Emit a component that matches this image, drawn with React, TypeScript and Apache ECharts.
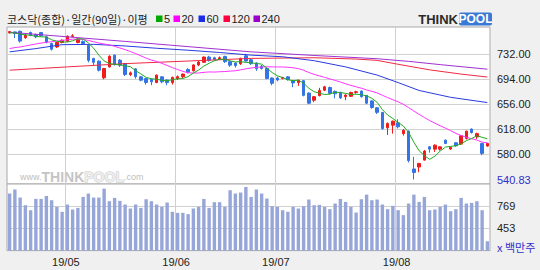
import { useEffect, useRef } from 'react';
import * as echarts from 'echarts';

const dates = [
  '2019-04-16','2019-04-17','2019-04-18','2019-04-19','2019-04-22','2019-04-23','2019-04-24','2019-04-25','2019-04-26','2019-04-29','2019-04-30',
  '2019-05-02','2019-05-03','2019-05-07','2019-05-08','2019-05-09','2019-05-10','2019-05-13','2019-05-14','2019-05-15','2019-05-16','2019-05-17',
  '2019-05-20','2019-05-21','2019-05-22','2019-05-23','2019-05-24','2019-05-27','2019-05-28','2019-05-29','2019-05-30','2019-05-31',
  '2019-06-03','2019-06-04','2019-06-05','2019-06-07','2019-06-10','2019-06-11','2019-06-12','2019-06-13','2019-06-14','2019-06-17',
  '2019-06-18','2019-06-19','2019-06-20','2019-06-21','2019-06-24','2019-06-25','2019-06-26','2019-06-27','2019-06-28',
  '2019-07-01','2019-07-02','2019-07-03','2019-07-04','2019-07-05','2019-07-08','2019-07-09','2019-07-10','2019-07-11','2019-07-12',
  '2019-07-15','2019-07-16','2019-07-17','2019-07-18','2019-07-19','2019-07-22','2019-07-23','2019-07-24','2019-07-25','2019-07-26',
  '2019-07-29','2019-07-30','2019-07-31',
  '2019-08-01','2019-08-02','2019-08-05','2019-08-06','2019-08-07','2019-08-08','2019-08-09','2019-08-12','2019-08-13','2019-08-14',
  '2019-08-16','2019-08-19','2019-08-20','2019-08-21','2019-08-22','2019-08-23','2019-08-26','2019-08-27',
];

const opens = [
  765, 766.5, 767.5, 757.5, 765.5, 762.5, 765.5, 759, 748.8, 743.6,
  750.3, 752.3, 759.5, 750.3, 752, 746, 726, 721.8, 696.3, 713,
  731, 723.3, 718.3, 701.4, 710, 697.8, 695.3, 694, 689.2, 697.8,
  693, 689, 695, 698, 709, 707, 716, 720, 728, 727,
  725, 729, 721, 719, 718, 730, 724, 719, 714, 710.6,
  696, 696, 695.5, 697.8, 692, 689, 692, 673, 662, 669,
  677.4, 681.5, 675.5, 674, 667.5, 668, 674, 676, 669.5, 661,
  650.5, 643.4, 620, 624, 627.5, 611, 614.8, 557, 560, 570.5,
  590.8, 587.3, 587.3, 601, 587.5, 597, 595, 603.6, 617.9, 606,
  596, 592,
];

const closes = [
  767, 764, 752.5, 761.5, 761.5, 759, 760.5, 751, 740, 750.3,
  753.8, 760, 760.6, 755.4, 748.8, 723, 720, 708, 710.6, 729.4,
  716.7, 715.7, 701.4, 703.9, 698, 692.7, 689.2, 690.2, 700.4, 690.2,
  689, 697, 698, 702, 705, 716, 720.5, 728, 723, 724.5,
  727, 721, 715.7, 715, 726, 722, 718, 710, 710.6, 695.3,
  688, 693, 696.5, 693.7, 688.5, 692.5, 669.5, 657.5, 667.5, 677,
  682.5, 672.5, 672, 665.5, 670, 674, 675, 667.5, 657.5, 651,
  643.5, 618.8, 626.6, 630, 621.4, 616, 569.8, 551.5, 565.5, 584.3,
  587.3, 593.4, 590.8, 596, 590, 592.4, 607.7, 614.8, 612.8, 611,
  580.8, 596,
];

const lows = [
  764, 757, 750, 756, 760, 757, 759, 749, 738, 742,
  749, 751, 758.5, 749, 747, 720, 716, 706, 694, 712,
  715, 713, 699, 699, 695, 691, 686, 685, 688, 688,
  685, 686, 693, 696, 703, 706, 714, 719, 721, 723,
  724, 719, 713, 712, 716, 721, 716, 707, 709, 694,
  685, 691, 694, 692, 682, 684, 668, 656, 659, 668,
  676, 671, 665, 664, 662, 667, 672, 666, 656, 649,
  641, 617, 609, 611, 619, 608, 567, 540.83, 552, 570,
  582, 583, 585, 595, 586, 591, 594, 602, 611, 603,
  578, 591,
];

const highs = [
  768, 767, 768.5, 763, 767, 764, 766.5, 760, 750, 751,
  755, 761, 763, 757, 753.5, 747, 727, 723, 711.5, 730.5,
  732, 725, 719, 706, 711, 699, 696, 695, 701.5, 699,
  694, 698, 700, 703, 711, 717, 722, 729, 730, 728.5,
  729, 730, 722, 720, 727, 733, 726, 720, 716, 712,
  697, 698, 698, 699, 693, 693.5, 693, 674, 668.5, 681,
  684, 683, 677, 675, 671, 675, 676.5, 677, 670, 662,
  651.5, 644, 628, 631, 633, 618, 616, 575.6, 566, 586,
  592, 594.5, 591.5, 602, 591, 598, 608.5, 615.5, 619, 612.5,
  597, 597,
];

// volume, millions of shares
const volumes = [
  949, 1005, 892, 783, 712, 873, 873, 915, 854, 760,
  689, 793, 722, 745, 901, 949, 892, 892, 1019, 840,
  887, 845, 793, 736, 793, 745, 868, 840, 793, 760,
  821, 689, 674, 674, 656, 736, 760, 873, 745, 826,
  826, 760, 996, 949, 963, 1043, 901, 1005, 949, 878,
  769, 760, 712, 689, 760, 736, 769, 864, 783, 788,
  760, 727, 807, 873, 830, 760, 679, 868, 934, 854,
  864, 793, 727, 774, 712, 642, 807, 934, 830, 901,
  712, 722, 760, 793, 698, 727, 887, 807, 816, 840,
  712, 270,
];

const ma5 = [
  765, 765, 763, 762, 761.3, 759.7, 759, 758.7, 754.4, 752.2,
  751.1, 751, 752.9, 756, 755.7, 749.6, 741.6, 731, 722.1, 718.2,
  716.9, 716.1, 714.8, 713.4, 707.1, 702.3, 697, 694.8, 694.1, 692.5,
  691.8, 693.4, 694.9, 695.2, 698.2, 703.6, 708.3, 714.3, 718.5, 722.4,
  724.6, 724.7, 722.2, 720.6, 721, 719.9, 719.3, 718.2, 717.3, 711.2,
  704.4, 699.4, 696.7, 693.3, 691.9, 692.8, 688.1, 680.3, 675.1, 672.8,
  670.8, 671.4, 674.3, 673.9, 672.5, 670.8, 671.3, 670.4, 668.8, 665,
  658.9, 647.7, 639.5, 634, 628.1, 622.6, 612.8, 597.7, 584.8, 577.4,
  571.7, 576.4, 584.3, 590.4, 591.5, 592.5, 595.4, 600.2, 603.5, 607.7,
  605.4, 603.1,
];

const ma20 = [
  741, 742.5, 743.5, 745, 746.5, 748, 749.5, 750.5, 751.5, 752.5,
  753.5, 754.5, 755.5, 755.5, 755, 753.5, 751.5, 749.5, 748, 746.8,
  744.3, 741.9, 739.4, 736.5, 733.3, 730, 726.4, 723.4, 721.4, 718.4,
  715.2, 712, 708.9, 706.2, 704, 703.7, 703.7, 704.7, 705.3, 705.1,
  705.6, 705.9, 706.6, 707.1, 708.5, 710, 711.4, 712.4, 712.9, 713.2,
  713.1, 712.9, 712.9, 712.4, 711.6, 710.4, 707.9, 704.4, 701.6, 699.2,
  697, 694.6, 692.4, 689.9, 687.1, 684.7, 682.6, 680.4, 677.8, 675.6,
  673.3, 669.6, 666.1, 662.9, 659.6, 655.8, 650.8, 645.5, 640.4, 635.7,
  631, 627, 623, 619.5, 615.5, 611.4, 608.1, 605.4, 603.2, 601.2,
  598, 596.9,
];

// long averages read at sample days: [day index, value]
const ma60 = [
  [0, 736], [5, 741], [10, 747], [16, 747.5], [22, 745], [28, 741.5], [34, 738.5], [40, 735],
  [46, 731], [52, 728.5], [58, 722.5], [64, 713], [70, 700.5], [74, 689], [78, 677], [84, 666.5], [91, 658.5],
];
const ma120 = [
  [0, 708], [11, 713], [22, 718], [34, 722], [46, 726], [58, 727], [66, 725], [70, 723],
  [74, 717], [80, 708.5], [86, 702], [91, 697.5],
];
const ma240 = [
  [0, 766], [11, 759], [22, 752], [34, 744], [46, 736], [58, 730.5], [70, 725.5], [76, 721.5],
  [82, 716.5], [91, 709.5],
];

const priceGridTicks = [580, 618, 656, 694, 732];
const priceLabelTicks = [540.83, 580, 618, 656, 694, 732];
const periodLow = 540.83;
const volumeTicks = [453, 769];
const maPeriods = ['5', '20', '60', '120', '240'];

const NUM_FONT = '"Liberation Sans", Arial, sans-serif';
const KR_FONT = '"Noto Sans CJK KR", "Noto Sans", sans-serif';
const MA_COLORS = ['#22aa22', '#ff33ff', '#2a3ae0', '#f02a44', '#a030d0'];
const LEGEND_COLORS = ['#00a800', '#ff00ff', '#1a2ee8', '#ff0040', '#9900cc'];

export default function App() {
  const ref = useRef<HTMLDivElement>(null);

  useEffect(() => {
    if (!ref.current) return;
    const chart = echarts.init(ref.current, null, { renderer: 'svg' });
    const candleData = opens.map((o, i) => [o, closes[i], lows[i], highs[i]]);
    const monthStart = (i: number) =>
      i > 0 && dates[i].slice(5, 7) !== dates[i - 1].slice(5, 7);
    const gridLine = { color: '#d0d0d0', width: 1, type: 'solid' };

    const legendX = [156, 173.5, 198.5, 223.5, 253.5];
    const legendGraphics: any[] = [];
    maPeriods.forEach((p, k) => {
      legendGraphics.push({
        type: 'rect',
        shape: { x: legendX[k], y: 15.5, width: 6.5, height: 6.5 },
        style: { fill: LEGEND_COLORS[k] },
        silent: true,
      });
      legendGraphics.push({
        type: 'text',
        x: legendX[k] + 8,
        y: 19,
        style: {
          text: p,
          font: `11px ${NUM_FONT}`,
          fill: '#222',
          verticalAlign: 'middle',
          align: 'left',
        },
        silent: true,
      });
    });

    chart.setOption({
      animation: false,
      backgroundColor: '#f0f0f0',
      grid: [
        { left: 7, width: 483, top: 27, height: 157, show: true, backgroundColor: '#ffffff', borderColor: '#a8a8a8', borderWidth: 1 },
        { left: 7, width: 483, top: 184, height: 66.6, show: true, backgroundColor: '#ffffff', borderColor: '#a8a8a8', borderWidth: 1 },
      ],
      xAxis: [
        {
          type: 'category', gridIndex: 0, data: dates, boundaryGap: true,
          axisLine: { show: false }, axisTick: { show: false }, axisLabel: { show: false },
          splitLine: { show: true, interval: (i: number) => monthStart(i), lineStyle: gridLine },
        },
        {
          type: 'category', gridIndex: 1, data: dates, boundaryGap: true,
          axisLine: { show: false }, axisTick: { show: false },
          axisLabel: {
            show: true,
            interval: (i: number) => monthStart(i),
            formatter: (v: string) => `${v.slice(2, 4)}/${v.slice(5, 7)}`,
            margin: 6, color: '#222', fontSize: 11, fontFamily: NUM_FONT,
            padding: [0, 3, 0, 0],
          },
          splitLine: { show: true, interval: (i: number) => monthStart(i), lineStyle: gridLine },
        },
      ],
      yAxis: [
        {
          type: 'value', gridIndex: 0, position: 'right', min: 534, max: 774, scale: true,
          axisLine: { show: false },
          axisTick: { show: false, customValues: priceGridTicks },
          splitLine: { show: true, lineStyle: gridLine },
          axisLabel: {
            customValues: priceLabelTicks,
            margin: 7, fontSize: 11, fontFamily: NUM_FONT, color: '#222',
            formatter: (v: number) => (v === periodLow ? `{low|${v.toFixed(2)}}` : v.toFixed(2)),
            rich: { low: { color: '#2f2fcc', fontSize: 11, fontFamily: NUM_FONT } },
          },
        },
        {
          type: 'value', gridIndex: 1, position: 'right', min: 137, max: 1085, scale: true,
          axisLine: { show: false },
          axisTick: { show: false, customValues: volumeTicks },
          splitLine: { show: true, lineStyle: gridLine },
          axisLabel: {
            customValues: volumeTicks,
            margin: 7, fontSize: 11, fontFamily: NUM_FONT, color: '#222',
          },
        },
      ],
      series: [
        {
          type: 'candlestick', xAxisIndex: 0, yAxisIndex: 0, data: candleData,
          barWidth: 3, silent: true,
          itemStyle: { color: '#ee1c1c', color0: '#3474e4', borderColor: '#ee1c1c', borderColor0: '#3474e4', borderWidth: 1 },
        },
        { type: 'line', xAxisIndex: 0, yAxisIndex: 0, data: ma240, symbol: 'none', silent: true, lineStyle: { color: MA_COLORS[4], width: 1 } },
        { type: 'line', xAxisIndex: 0, yAxisIndex: 0, data: ma120, symbol: 'none', silent: true, lineStyle: { color: MA_COLORS[3], width: 1 } },
        { type: 'line', xAxisIndex: 0, yAxisIndex: 0, data: ma60, symbol: 'none', silent: true, lineStyle: { color: MA_COLORS[2], width: 1 } },
        { type: 'line', xAxisIndex: 0, yAxisIndex: 0, data: ma20, symbol: 'none', silent: true, lineStyle: { color: MA_COLORS[1], width: 1 } },
        { type: 'line', xAxisIndex: 0, yAxisIndex: 0, data: ma5, symbol: 'none', silent: true, lineStyle: { color: MA_COLORS[0], width: 1 } },
        {
          type: 'bar', xAxisIndex: 1, yAxisIndex: 1, data: volumes, barWidth: 3.4, silent: true, clip: true,
          itemStyle: { color: '#97a6d8' },
        },
      ],
      graphic: [
        {
          type: 'text', x: 7, y: 19, silent: true,
          style: { text: '코스닥(종합)·일간(90일)·이평', font: `11px ${KR_FONT}`, fill: '#222', verticalAlign: 'middle', align: 'left' },
        },
        ...legendGraphics,
        {
          type: 'text', x: 458, y: 19, silent: true,
          style: { text: 'THINK', font: `bold 13px ${NUM_FONT}`, fill: '#2b2b2b', align: 'right', verticalAlign: 'middle' },
        },
        {
          type: 'rect', silent: true,
          shape: { x: 459, y: 12.5, width: 33, height: 13, r: 2 },
          style: { fill: '#3a7ad6' },
        },
        {
          type: 'text', x: 475.5, y: 19.2, silent: true,
          style: { text: 'POOL', font: `bold 12px ${NUM_FONT}`, fill: '#ffffff', align: 'center', verticalAlign: 'middle' },
        },
        {
          type: 'text', x: 20, y: 177, silent: true,
          style: {
            text: '{a|www.}{b|THINK}{c|POOL}{a|.com}',
            verticalAlign: 'middle', align: 'left',
            rich: {
              a: { font: `9px ${NUM_FONT}`, fill: '#bdbdbd' },
              b: { font: `bold 14px ${NUM_FONT}`, fill: '#c4c4c4' },
              c: { font: `bold 14px ${NUM_FONT}`, fill: '#eeeeee', stroke: '#c8c8c8', lineWidth: 1 },
            },
          },
        },
        {
          type: 'text', x: 497, y: 246.7, silent: true,
          style: { text: 'x 백만주', font: `11px ${KR_FONT}`, fill: '#2f2fcc', verticalAlign: 'middle', align: 'left' },
        },
      ],
    });

    return () => chart.dispose();
  }, []);

  return (
    <div style={{ position: 'absolute', left: 0, top: 0, width: 540, height: 270 }}>
      <div ref={ref} style={{ width: 540, height: 270 }} />
    </div>
  );
}
